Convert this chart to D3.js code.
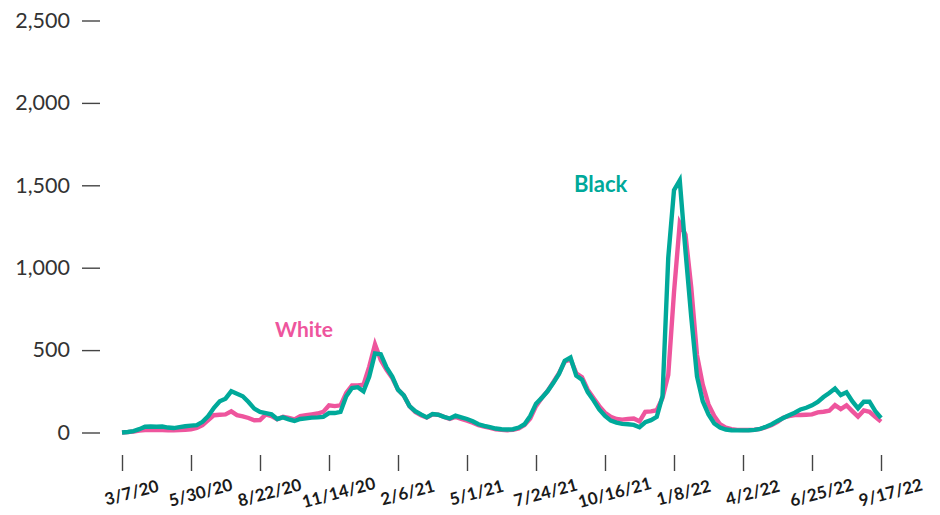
<!DOCTYPE html>
<html>
<head>
<meta charset="utf-8">
<script src="https://cdn.jsdelivr.net/npm/d3@7"></script>
<style>
  html, body { margin: 0; padding: 0; background: #fff; }
  svg { display: block; }
</style>
</head>
<body>
<svg id="chart" width="940" height="515"></svg>
<script>
// ---- Data (weekly, starting 3/7/20) ----
const startDate = "2020-03-07";
const tickLabels = ["3/7/20","5/30/20","8/22/20","11/14/20","2/6/21","5/1/21","7/24/21","10/16/21","1/8/22","4/2/22","6/25/22","9/17/22"];
const yTicks = [0, 500, 1000, 1500, 2000, 2500];

const blackValues = [
  0, 3, 8, 20, 35, 36, 35, 36, 30, 27,
  33, 38, 42, 45, 65, 100, 150, 189, 205, 250,
  235, 220, 185, 145, 125, 118, 110, 82, 92, 80,
  70, 82, 86, 90, 92, 95, 118, 118, 125, 220,
  270, 275, 250, 340, 480, 475, 395, 340, 260, 225,
  160, 130, 110, 92, 112, 108, 95, 85, 102, 92,
  82, 68, 50, 40, 32, 24, 20, 18, 20, 30,
  50, 100, 175, 210, 250, 300, 355, 435, 455, 345,
  320, 245, 195, 140, 100, 72, 60, 52, 50, 46,
  32, 62, 75, 95, 220, 1060, 1470, 1530, 1100, 700,
  340, 190, 110, 55, 30, 18, 14, 13, 13, 14,
  16, 22, 35, 50, 70, 88, 105, 120, 140, 150,
  165, 185, 215, 240, 267, 227, 244, 190, 147, 187,
  187, 130, 88
];
const whiteValues = [
  0, 2, 6, 12, 15, 16, 15, 15, 14, 14,
  15, 17, 20, 28, 45, 75, 105, 108, 110, 128,
  105, 98, 88, 74, 75, 110, 100, 80, 95, 88,
  80, 100, 105, 110, 115, 125, 165, 160, 165, 240,
  285, 285, 290, 400, 535, 440, 380, 330, 260, 225,
  160, 125, 105, 90, 110, 108, 95, 82, 95, 82,
  72, 60, 45, 35, 28, 20, 16, 14, 16, 25,
  45, 85, 160, 210, 250, 305, 360, 430, 445, 360,
  335, 260, 210, 160, 120, 95, 82, 78, 82, 85,
  68, 125, 128, 135, 210, 350, 850, 1270, 1200, 880,
  470, 290, 170, 100, 50, 30, 20, 16, 15, 15,
  17, 22, 32, 45, 65, 90, 100, 106, 106, 108,
  110, 122, 126, 132, 166, 142, 165, 130, 96, 134,
  126, 95, 66
];
const seriesNames = ["White", "Black"];
const seriesColors = ["#EE559D", "#00A99A"];

// ---- Setup ----
const parse = d3.utcParse("%Y-%m-%d");
const t0 = parse(startDate);
const dates = blackValues.map((_, i) => d3.utcDay.offset(t0, 7 * i));
const tickDates = tickLabels.map((_, i) => d3.utcDay.offset(t0, 84 * i));

const svg = d3.select("#chart");
const x = d3.scaleUtc().domain([dates[0], dates[dates.length - 1]]).range([122, 881]);
const y = d3.scaleLinear().domain([0, 2500]).range([432.5, 20.5]);

// Y axis
const yAxis = d3.axisLeft(y).tickValues(yTicks).tickFormat(d3.format(",")).tickSize(18).tickPadding(12);
const gy = svg.append("g").attr("transform", "translate(100,0)").call(yAxis);
gy.select(".domain").remove();
gy.selectAll(".tick line").attr("stroke", "#444").attr("stroke-width", 1.4);
gy.selectAll(".tick text")
  .attr("fill", "#333")
  .style("font-family", "Lato, 'Open Sans', sans-serif")
  .style("font-size", "21.5px");

// X axis
const xAxis = d3.axisBottom(x).tickValues(tickDates).tickFormat((d, i) => tickLabels[i]).tickSize(16).tickPadding(0);
const gx = svg.append("g").attr("transform", "translate(0,455)").call(xAxis);
gx.select(".domain").remove();
gx.selectAll(".tick line").attr("stroke", "#444").attr("stroke-width", 1.4);
gx.selectAll(".tick text")
  .attr("fill", "#1a1a1a")
  .attr("text-anchor", "middle")
  .attr("dy", null)
  .attr("y", null)
  .attr("dominant-baseline", "central")
  .attr("transform", "translate(9,37) rotate(-15)")
  .style("font-family", "Lato, 'Open Sans', sans-serif")
  .style("font-weight", "bold")
  .style("font-size", "17px");

// Lines
const line = d3.line().x((d, i) => x(dates[i])).y(d => y(d));
[whiteValues, blackValues].forEach((vals, k) => {
  svg.append("path")
    .datum(vals)
    .attr("fill", "none")
    .attr("stroke", seriesColors[k])
    .attr("stroke-width", 4.4)
    .attr("stroke-linejoin", "miter")
    .attr("stroke-miterlimit", 4)
    .attr("d", line);
});

// Labels
const labelFont = "Lato, 'Open Sans', sans-serif";
svg.append("text").attr("x", 275).attr("y", 337).text(seriesNames[0])
  .attr("fill", seriesColors[0]).style("font-family", labelFont).style("font-weight", "bold").style("font-size", "21px");
svg.append("text").attr("x", 574).attr("y", 192).text(seriesNames[1])
  .attr("fill", seriesColors[1]).style("font-family", labelFont).style("font-weight", "bold").style("font-size", "22px");
</script>
</body>
</html>
